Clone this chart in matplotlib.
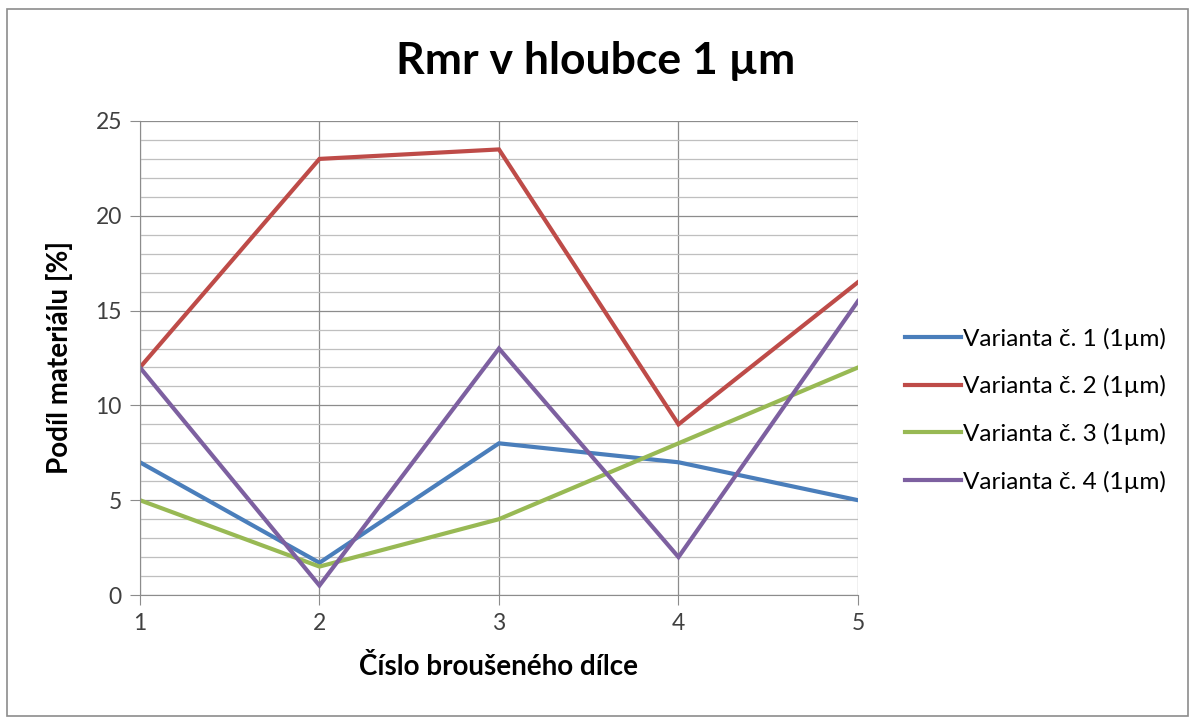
import matplotlib
matplotlib.use('Agg')
import matplotlib.pyplot as plt
from matplotlib.patches import Rectangle

plt.rcParams['font.family'] = ['Lato', 'DejaVu Sans']

# data
parts = [1, 2, 3, 4, 5]
var1 = [7, 1.7, 8, 7, 5]
var2 = [12, 23, 23.5, 9, 16.5]
var3 = [5, 1.5, 4, 8, 12]
var4 = [12, 0.5, 13, 2, 15.5]
labels = ['Varianta č. 1 (1µm)', 'Varianta č. 2 (1µm)',
          'Varianta č. 3 (1µm)', 'Varianta č. 4 (1µm)']
colors = ['#4A7EBB', '#BE4B48', '#98B954', '#7D60A0']

fig = plt.figure(figsize=(11.92, 7.18), dpi=100)
ax = fig.add_axes([0.1174, 0.1713, 0.6024, 0.6602])

for ys, lab, c in zip([var1, var2, var3, var4], labels, colors):
    ax.plot(parts, ys, color=c, lw=3, label=lab, solid_joinstyle='miter')

ax.set_xlim(1, 5)
ax.set_ylim(0, 25)
ax.set_xticks(parts)
ax.set_yticks(range(0, 26, 5))
ax.set_yticks(range(0, 26, 1), minor=True)
ax.grid(True, which='major', color='#8c8c8c', lw=0.9)
ax.grid(True, which='minor', axis='y', color='#bfbfbf', lw=0.9)
ax.set_axisbelow(True)
for s in ['top', 'right']:
    ax.spines[s].set_visible(False)
for s in ['left', 'bottom']:
    ax.spines[s].set_color('#8c8c8c')
ax.tick_params(which='major', length=7, color='#8c8c8c', labelsize=16.5, pad=6,
               labelcolor='#404040')
ax.tick_params(which='minor', length=0)

ax.set_xlabel('Číslo broušeného dílce', fontsize=20, fontweight='bold', labelpad=14)
ax.set_ylabel('Podíl materiálu [%]', fontsize=20, fontweight='bold', labelpad=16)
fig.text(0.5, 0.915, 'Rmr v hloubce 1 µm', ha='center', va='center',
         fontsize=32, fontweight='bold')

ax.legend(loc='center left', bbox_to_anchor=(1.035, 0.39), frameon=False,
          fontsize=17.5, handlelength=2.3, handletextpad=0.1, labelspacing=1.05)

fig.patches.append(Rectangle((0.006, 0.003), 0.991, 0.985, transform=fig.transFigure,
                             fill=False, edgecolor='#8c8c8c', lw=1.2))

fig.savefig('out.png', dpi=100)
